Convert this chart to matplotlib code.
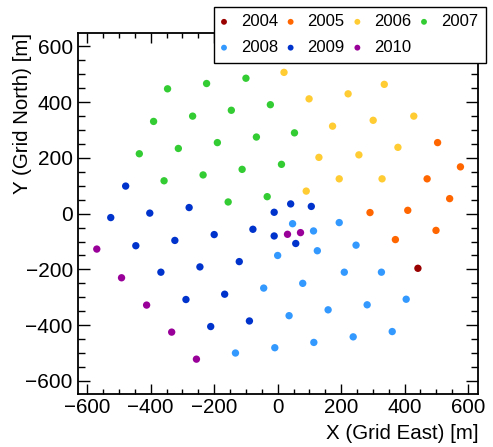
import matplotlib
matplotlib.use("Agg")
from matplotlib import pyplot as plt
from matplotlib.ticker import MultipleLocator

plt.rcParams['font.family'] = ['Liberation Sans', 'DejaVu Sans']

years = ["2004", "2005", "2006", "2007", "2008", "2009", "2010"]
colors = ["#990000", "#ff6600", "#ffcc33", "#33cc33", "#3399ff", "#0033cc", "#990099"]

x_2004 = [442]
y_2004 = [-196]
x_2005 = [504, 576, 471, 542, 291, 410, 499, 371]
y_2005 = [255, 168, 125, 54, 4, 12, -60, -93]
x_2006 = [20, 99, 222, 336, 173, 301, 429, 130, 256, 379, 194, 329, 90]
y_2006 = [507, 412, 430, 464, 314, 335, 350, 202, 211, 238, 125, 125, 81]
x_2007 = [-347, -224, -100, -23, -391, -268, -146, -67, -436, -313, -190, -112, 12, -358, -235, -156, -33, 53]
y_2007 = [448, 467, 486, 391, 331, 350, 371, 275, 215, 234, 255, 159, 177, 118, 139, 42, 61, 290]
x_2008 = [0, -44, -133, -9, 47, 113, 194, 125, 247, 79, 210, 327, 36, 159, 282, 405, 114, 238, 361]
y_2008 = [-150, -267, -500, -481, -36, -62, -32, -133, -113, -250, -210, -210, -366, -345, -327, -307, -462, -442, -423]
x_2009 = [-479, -526, -403, -279, -11, 41, 106, -447, -324, -200, -78, -11, -368, -245, -121, -289, -167, -211, -89, 57]
y_2009 = [99, -14, 2, 22, 5, 35, 26, -115, -96, -75, -56, -80, -210, -191, -172, -308, -289, -405, -385, -107]
x_2010 = [-570, -492, -413, -334, -256, 31, 72]
y_2010 = [-127, -230, -328, -425, -522, -74, -68]

xs = [x_2004, x_2005, x_2006, x_2007, x_2008, x_2009, x_2010]
ys = [y_2004, y_2005, y_2006, y_2007, y_2008, y_2009, y_2010]

fig = plt.figure(figsize=(4.93, 4.47), dpi=100)
ax = fig.add_axes([0.159, 0.1186, 0.811, 0.8074])

handles = {}
for year, col, x, y in zip(years, colors, xs, ys):
    handles[year] = ax.scatter(x, y, s=28, color=col, edgecolors="none", label=year, zorder=3)

ax.set_xlim(-628, 632)
ax.set_ylim(-647, 648)
ax.xaxis.set_major_locator(MultipleLocator(200))
ax.xaxis.set_minor_locator(MultipleLocator(50))
ax.yaxis.set_major_locator(MultipleLocator(200))
ax.yaxis.set_minor_locator(MultipleLocator(50))
ax.tick_params(which="both", direction="in", top=True, right=True, width=1.0)
ax.tick_params(axis="x", which="major", length=7.2, pad=3, labelsize=14.8)
ax.tick_params(axis="x", which="minor", length=3.3)
ax.tick_params(axis="y", which="major", length=8.6, pad=4, labelsize=15)
ax.tick_params(axis="y", which="minor", length=4.8)
for sp in ax.spines.values():
    sp.set_linewidth(1.3)

ax.set_xlabel("X (Grid East) [m]", fontsize=14.8, loc="right", labelpad=5)
ax.set_ylabel("Y (Grid North) [m]", fontsize=14.8, loc="top", labelpad=-5)

# row-wise legend order (matplotlib fills columns first)
order = ["2004", "2008", "2005", "2009", "2006", "2010", "2007"]
leg = fig.legend([handles[k] for k in order], order,
                 loc="upper left", bbox_to_anchor=(214 / 493, 1 - 6.7 / 447), ncol=4, fontsize=12,
                 frameon=True, fancybox=False, edgecolor="black", framealpha=1,
                 markerscale=0.8, handletextpad=0.87, columnspacing=0.6,
                 handlelength=0.3, borderpad=0.45, labelspacing=0.65, borderaxespad=0)
leg.get_frame().set_linewidth(1.0)

fig.savefig("out.png", dpi=100)
